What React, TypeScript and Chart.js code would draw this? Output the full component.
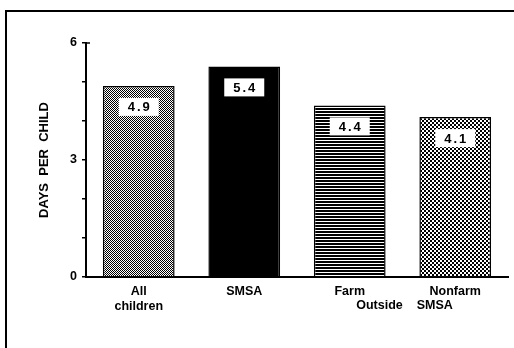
import { useEffect, useRef } from "react";
import { Chart, registerables } from "chart.js";

Chart.register(...registerables);

const categories: (string | string[])[] = [["All", "children"], "SMSA", "Farm", "Nonfarm"];
const values = [4.9, 5.4, 4.4, 4.1];
const valueLabels = ["4.9", "5.4", "4.4", "4.1"];
const yTickLabels = [0, 3, 6];
const groupLabel = "Outside    SMSA"; // second line shared by Farm and Nonfarm
const yTitle = "DAYS  PER  CHILD";

const FONT = "'Liberation Sans', Arial, sans-serif";

function makePattern(size: number, draw: (g: CanvasRenderingContext2D) => void): CanvasPattern | string {
  const c = document.createElement("canvas");
  c.width = size;
  c.height = size;
  const g = c.getContext("2d");
  if (!g) return "#888";
  g.fillStyle = "#fff";
  g.fillRect(0, 0, size, size);
  g.fillStyle = "#000";
  draw(g);
  return g.createPattern(c, "repeat") || "#888";
}

export default function App() {
  const ref = useRef<HTMLCanvasElement | null>(null);

  useEffect(() => {
    document.body.style.margin = "0";
    const canvas = ref.current;
    if (!canvas) return;

    const fills = [
      makePattern(2, (g) => {
        g.fillRect(0, 0, 1, 1);
        g.fillRect(1, 1, 1, 1);
      }),
      "#000",
      makePattern(3, (g) => {
        g.fillRect(0, 0, 3, 2);
      }),
      makePattern(4, (g) => {
        g.fillRect(2, 0, 2, 2);
        g.fillRect(0, 2, 2, 2);
      }),
    ];

    const decor = {
      id: "decor",
      beforeDraw(chart: any) {
        const ctx = chart.ctx;
        ctx.save();
        ctx.strokeStyle = "#000";
        ctx.lineWidth = 2;
        ctx.beginPath();
        ctx.moveTo(6, chart.height);
        ctx.lineTo(6, 11);
        ctx.lineTo(chart.width, 11);
        ctx.stroke();
        ctx.restore();
      },
      afterDatasetsDraw(chart: any) {
        const ctx = chart.ctx;
        const meta = chart.getDatasetMeta(0);
        ctx.save();
        meta.data.forEach((bar: any, i: number) => {
          const w = 40;
          const h = 18;
          const x = bar.x - w / 2;
          const y = bar.y + 12;
          ctx.fillStyle = "#fff";
          ctx.fillRect(x, y, w, h);
          ctx.fillStyle = "#000";
          ctx.font = `bold 13px ${FONT}`;
          (ctx as any).letterSpacing = "2px";
          ctx.textAlign = "center";
          ctx.textBaseline = "middle";
          ctx.fillText(valueLabels[i], bar.x + 1, y + h / 2 + 1);
        });
        (ctx as any).letterSpacing = "0px";
        const xs = chart.scales.x;
        const mid = (xs.getPixelForValue(2) + xs.getPixelForValue(3)) / 2;
        ctx.font = `bold 12.5px ${FONT}`;
        ctx.textAlign = "center";
        ctx.textBaseline = "top";
        ctx.fillText(groupLabel, mid + 2, xs.top + 7 + 15);
        // small stub at top of y axis
        const ys = chart.scales.y;
        const yt = ys.getPixelForValue(ys.max);
        ctx.strokeStyle = "#000";
        ctx.lineWidth = 1.5;
        ctx.beginPath();
        ctx.moveTo(chart.chartArea.left, yt);
        ctx.lineTo(chart.chartArea.left + 4, yt);
        ctx.stroke();
        ctx.restore();
      },
    };

    const chart = new Chart(canvas, {
      type: "bar",
      data: {
        labels: categories,
        datasets: [
          {
            data: values,
            backgroundColor: fills as any,
            borderColor: "#000",
            borderWidth: 1.5,
            barPercentage: 0.68,
            categoryPercentage: 1,
          },
        ],
      },
      options: {
        responsive: false,
        animation: false,
        devicePixelRatio: 1,
        layout: { padding: { left: 0, right: 6, top: 43, bottom: 0 } },
        plugins: {
          legend: { display: false },
          tooltip: { enabled: false },
        },
        scales: {
          x: {
            type: "category",
            grid: { display: false, drawTicks: false },
            border: { display: true, color: "#000", width: 2 },
            ticks: {
              color: "#000",
              padding: 7,
              maxRotation: 0,
              autoSkip: false,
              font: { family: FONT, size: 12.5, weight: "bold", lineHeight: 1.2 },
            },
            afterFit(s: any) {
              s.height = 71;
            },
          },
          y: {
            min: 0,
            max: 6,
            grid: { drawOnChartArea: false, drawTicks: true, tickLength: 4, color: "#000", lineWidth: 1.5 },
            border: { display: true, color: "#000", width: 2 },
            ticks: {
              stepSize: 1,
              color: "#000",
              padding: 5,
              font: { family: FONT, size: 12.5, weight: "bold" },
              callback: (v: any) => (yTickLabels.includes(Number(v)) ? String(v) : ""),
            },
            title: {
              display: true,
              text: yTitle,
              color: "#000",
              padding: { top: 37, bottom: 0 },
              font: { family: FONT, size: 13, weight: "bold", lineHeight: 1.2 },
            },
            afterFit(s: any) {
              s.width = 86;
            },
          },
        },
      },
      plugins: [decor],
    });

    return () => chart.destroy();
  }, []);

  return (
    <div style={{ width: 514, height: 348, background: "#fff" }}>
      <canvas ref={ref} width={514} height={348} />
    </div>
  );
}
